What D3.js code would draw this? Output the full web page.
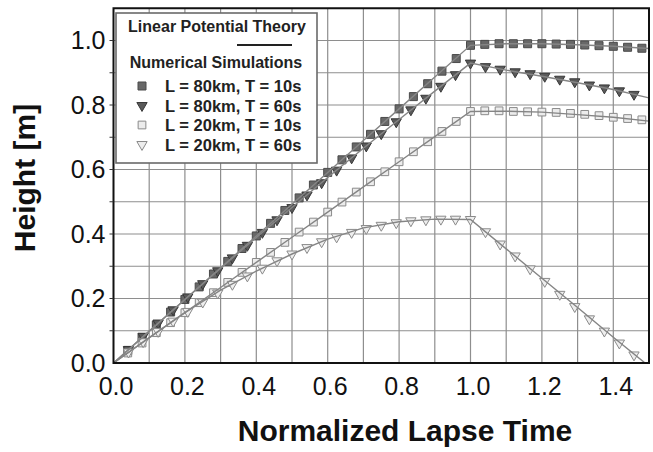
<!DOCTYPE html>
<html>
<head>
<meta charset="utf-8">
<script src="https://cdn.jsdelivr.net/npm/d3@7/dist/d3.min.js"></script>
<style>
  html, body { margin: 0; padding: 0; background: #fff; }
  svg { display: block; font-family: "Liberation Sans", Arial, Helvetica, sans-serif; }
</style>
</head>
<body>
<div id="chart"></div>
<script>
// theory curves (linear potential theory), sampled every 0.1
const theoryT = [0, 0.1, 0.2, 0.3, 0.4, 0.5, 0.6, 0.7, 0.8, 0.9, 1.0, 1.1, 1.2, 1.3, 1.4, 1.5];
const theoryA = [0, 0.098, 0.197, 0.295, 0.394, 0.492, 0.591, 0.690, 0.788, 0.887, 0.985, 0.990, 0.990, 0.987, 0.982, 0.975];
const theoryB = [0, 0.099, 0.197, 0.294, 0.389, 0.482, 0.575, 0.666, 0.755, 0.843, 0.930, 0.908, 0.889, 0.869, 0.848, 0.822];
const theoryC = [0, 0.078, 0.156, 0.234, 0.312, 0.390, 0.468, 0.546, 0.624, 0.702, 0.780, 0.781, 0.778, 0.770, 0.762, 0.750];
const theoryD = [0, 0.079, 0.156, 0.226, 0.285, 0.338, 0.384, 0.419, 0.438, 0.446, 0.445, 0.354, 0.263, 0.172, 0.080, -0.010];

// numerical simulations, T = 10s sampled every 0.04
const simT10 = [0.04, 0.08, 0.12, 0.16, 0.20, 0.24, 0.28, 0.32, 0.36, 0.40, 0.44, 0.48, 0.52,
  0.56, 0.60, 0.64, 0.68, 0.72, 0.76, 0.80, 0.84, 0.88, 0.92, 0.96, 1.00, 1.04, 1.08, 1.12,
  1.16, 1.20, 1.24, 1.28, 1.32, 1.36, 1.40, 1.44, 1.48];
const simA = [0.039, 0.079, 0.118, 0.158, 0.197, 0.236, 0.276, 0.315, 0.355, 0.394, 0.433, 0.473, 0.512,
  0.552, 0.591, 0.630, 0.670, 0.709, 0.749, 0.788, 0.826, 0.866, 0.905, 0.944, 0.985, 0.988, 0.990, 0.990,
  0.990, 0.990, 0.989, 0.988, 0.986, 0.984, 0.982, 0.979, 0.976];
const simC = [0.031, 0.062, 0.094, 0.125, 0.156, 0.187, 0.218, 0.250, 0.281, 0.312, 0.343, 0.374, 0.406,
  0.437, 0.468, 0.499, 0.530, 0.562, 0.593, 0.624, 0.655, 0.686, 0.718, 0.749, 0.780, 0.782, 0.782, 0.780,
  0.779, 0.778, 0.777, 0.774, 0.771, 0.767, 0.762, 0.758, 0.754];

// numerical simulations, T = 60s sampled every 1/24
const simT60 = [0.042, 0.083, 0.125, 0.167, 0.208, 0.250, 0.292, 0.333, 0.375, 0.417, 0.458, 0.500,
  0.542, 0.583, 0.625, 0.667, 0.708, 0.750, 0.792, 0.833, 0.875, 0.917, 0.958, 1.000,
  1.042, 1.083, 1.125, 1.167, 1.208, 1.250, 1.292, 1.333, 1.375, 1.417, 1.458];
const simB = [0.042, 0.083, 0.124, 0.165, 0.205, 0.246, 0.286, 0.326, 0.365, 0.405, 0.444, 0.482,
  0.521, 0.559, 0.598, 0.636, 0.673, 0.711, 0.748, 0.785, 0.821, 0.858, 0.894, 0.930,
  0.919, 0.911, 0.903, 0.897, 0.889, 0.880, 0.872, 0.862, 0.853, 0.844, 0.833];
const simD = [0.034, 0.066, 0.098, 0.130, 0.160, 0.189, 0.217, 0.244, 0.270, 0.294, 0.317, 0.338,
  0.358, 0.376, 0.391, 0.405, 0.417, 0.427, 0.435, 0.441, 0.444, 0.446, 0.446, 0.445,
  0.407, 0.369, 0.332, 0.292, 0.253, 0.213, 0.175, 0.137, 0.099, 0.062, 0.025];

const legendLabels = ["L = 80km, T = 10s", "L = 80km, T = 60s", "L = 20km, T = 10s", "L = 20km, T = 60s"];
const xTicks = [0, 0.2, 0.4, 0.6, 0.8, 1.0, 1.2, 1.4];
const yTicks = [0, 0.2, 0.4, 0.6, 0.8, 1.0];
const gridX = d3.range(1, 15).map((i) => i / 10);
const gridY = d3.range(1, 11).map((i) => i / 10);

// 画布
const width = 653, height = 452;
const plotL = 113.5, plotR = 649, plotT = 8.25, plotB = 363;

const x = d3.scaleLinear().domain([0, 1.5]).range([plotL, plotR]);
const y = d3.scaleLinear().domain([0, 1.1]).range([plotB, plotT]);

const svg = d3.select("#chart").append("svg")
  .attr("width", width)
  .attr("height", height);

svg.append("defs").append("clipPath").attr("id", "plot-clip")
  .append("rect")
  .attr("x", plotL).attr("y", plotT)
  .attr("width", plotR - plotL).attr("height", plotB - plotT);

// 网格
const grid = svg.append("g").attr("stroke", "#8e8e8e").attr("stroke-width", 1.2);
grid.selectAll("line.gx").data(gridX).join("line")
  .attr("class", "gx")
  .attr("x1", (d) => x(d)).attr("x2", (d) => x(d))
  .attr("y1", plotT).attr("y2", plotB);
grid.selectAll("line.gy").data(gridY).join("line")
  .attr("class", "gy")
  .attr("x1", plotL).attr("x2", plotR)
  .attr("y1", (d) => y(d)).attr("y2", (d) => y(d));

// series definitions
const series = [
  { t: simT10, v: simA, theory: theoryA, shape: "square", fill: "#686868", stroke: "#4a4a4a", size: 64 },
  { t: simT60, v: simB, theory: theoryB, shape: "triangle", fill: "#5a5a5a", stroke: "#383838", size: 46 },
  { t: simT10, v: simC, theory: theoryC, shape: "square", fill: "#ececec", stroke: "#8a8a8a", size: 60 },
  { t: simT60, v: simD, theory: theoryD, shape: "triangle", fill: "#eeeeee", stroke: "#8a8a8a", size: 46 },
];

function symbolPath(s) {
  return d3.symbol()
    .type(s.shape === "square" ? d3.symbolSquare : d3.symbolTriangle)
    .size(s.size)();
}

const plot = svg.append("g").attr("clip-path", "url(#plot-clip)");

// 数值模拟标记
series.forEach((s) => {
  const pts = s.t.map((t, i) => [t, s.v[i]]);
  plot.append("g").selectAll("path").data(pts).join("path")
    .attr("d", symbolPath(s))
    .attr("transform", (d) => `translate(${x(d[0])},${y(d[1])})` + (s.shape === "triangle" ? " rotate(180)" : ""))
    .attr("fill", s.fill)
    .attr("stroke", s.stroke)
    .attr("stroke-width", 1);
});

// 理论曲线
const line = d3.line().x((d) => x(d[0])).y((d) => y(d[1]));
series.forEach((s) => {
  plot.append("path")
    .datum(theoryT.map((t, i) => [t, s.theory[i]]))
    .attr("d", line)
    .attr("fill", "none")
    .attr("stroke", "#858585")
    .attr("stroke-width", 1.4);
});

// 坐标轴框
svg.append("rect")
  .attr("x", plotL).attr("y", plotT)
  .attr("width", plotR - plotL).attr("height", plotB - plotT)
  .attr("fill", "none")
  .attr("stroke", "#111")
  .attr("stroke-width", 2);

// y minor ticks
svg.append("g").attr("stroke", "#333").attr("stroke-width", 1)
  .selectAll("line").data(gridY).join("line")
  .attr("x1", plotL - 4).attr("x2", plotL)
  .attr("y1", (d) => y(d)).attr("y2", (d) => y(d));

const xAxis = svg.append("g")
  .attr("transform", `translate(2,${plotB})`)
  .call(d3.axisBottom(x).tickValues(xTicks).tickSize(0).tickPadding(14).tickFormat(d3.format(".1f")));
const yAxis = svg.append("g")
  .attr("transform", `translate(${plotL},0)`)
  .call(d3.axisLeft(y).tickValues(yTicks).tickSize(0).tickPadding(8).tickFormat(d3.format(".1f")));
[xAxis, yAxis].forEach((a) => {
  a.select(".domain").remove();
  a.selectAll("text")
    .attr("fill", "#111")
    .style("font-size", "25px")
    .style("font-family", '"Liberation Sans", Arial, sans-serif');
});

// 轴标题
svg.append("text")
  .attr("x", 405).attr("y", 441)
  .attr("text-anchor", "middle")
  .style("font-size", "30px").style("font-weight", "bold")
  .attr("fill", "#111")
  .text("Normalized Lapse Time");

svg.append("text")
  .attr("transform", "translate(35,178) rotate(-90)")
  .attr("text-anchor", "middle")
  .style("font-size", "30px").style("font-weight", "bold")
  .attr("fill", "#111")
  .text("Height [m]");

// 图例
const legend = svg.append("g");
legend.append("rect")
  .attr("x", 116).attr("y", 13)
  .attr("width", 201).attr("height", 150)
  .attr("fill", "#fff")
  .attr("stroke", "#6a6a6a")
  .attr("stroke-width", 1.6);

legend.append("text")
  .attr("x", 217).attr("y", 31.5)
  .attr("text-anchor", "middle")
  .style("font-size", "16px").style("font-weight", "bold")
  .attr("fill", "#222")
  .text("Linear Potential Theory");
legend.append("line")
  .attr("x1", 237).attr("x2", 292)
  .attr("y1", 45).attr("y2", 45)
  .attr("stroke", "#222").attr("stroke-width", 1.8);
legend.append("text")
  .attr("x", 216).attr("y", 68)
  .attr("text-anchor", "middle")
  .style("font-size", "16px").style("font-weight", "bold")
  .attr("fill", "#222")
  .text("Numerical Simulations");

const rowY = d3.scaleLinear().domain([0, 3]).range([92, 150.5]);
series.forEach((s, i) => {
  legend.append("path")
    .attr("d", symbolPath(s))
    .attr("transform", `translate(142,${rowY(i) - 6})` + (s.shape === "triangle" ? " rotate(180)" : ""))
    .attr("fill", s.fill)
    .attr("stroke", s.stroke);
  legend.append("text")
    .attr("x", 165).attr("y", rowY(i))
    .style("font-size", "16.5px").style("font-weight", "bold")
    .attr("fill", "#222")
    .text(legendLabels[i]);
});
</script>
</body>
</html>
